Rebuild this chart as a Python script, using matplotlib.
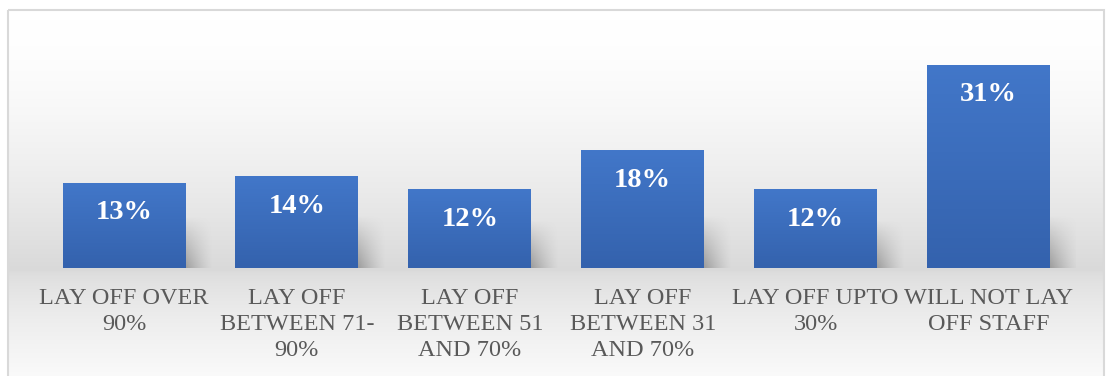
import numpy as np
import matplotlib
matplotlib.use("Agg")
import matplotlib.pyplot as plt
from matplotlib.patches import Rectangle

# data
categories = ["LAY OFF OVER\n90%", "LAY OFF\nBETWEEN 71-\n90%", "LAY OFF\nBETWEEN 51\nAND 70%",
              "LAY OFF\nBETWEEN 31\nAND 70%", "LAY OFF UPTO\n30%", "WILL NOT LAY\nOFF STAFF"]
values = [0.13, 0.14, 0.12, 0.18, 0.12, 0.31]
value_labels = ["13%", "14%", "12%", "18%", "12%", "31%"]

W, H = 1106, 376
fig = plt.figure(figsize=(W / 100, H / 100), dpi=100)
fig.patch.set_facecolor("white")

# background: wall + floor gradient inside the chart frame
bg = fig.add_axes([0, 0, 1, 1])
bg.set_xlim(0, W)
bg.set_ylim(H, 0)
bg.axis("off")
ys = np.arange(H)
base = 268
shade = np.where(ys < base,
                 1.0 - 0.15 * ((ys - 10) / (base - 10)).clip(0, 1) ** 1.6,
                 0.86 + 0.12 * ((ys - base) / (H - base)).clip(0, 1) ** 0.7)
grad = np.repeat(shade[:, None], 2, axis=1)
rgb = np.dstack([grad, grad, grad])
bg.imshow(rgb, extent=(8, 1104, H, 10), aspect="auto", interpolation="bilinear")
bg.add_patch(Rectangle((8, 10), 1096, H, fill=False, ec="#d9d9d9", lw=1.5))

ax = fig.add_axes([37.5 / W, (H - base) / H, (1075 - 37.5) / W, 35 * 6.55 / H])
ax.patch.set_alpha(0)
x = np.arange(len(values))
bw = 0.71
ax.set_xlim(-0.5, len(values) - 0.5)
ax.set_ylim(0, 0.35)

# soft shadows to the right of bars
for xi, v in zip(x, values):
    sh = min(0.6 * v, 0.08)
    nx, ny = 60, 60
    gx = np.linspace(0, 1, nx)[None, :]
    gy = np.linspace(0, 1, ny)[:, None]  # 0 at top, 1 at bottom
    alpha = (1 - gx) ** 1.3 * gy ** 1.0 * 0.55
    img = np.zeros((ny, nx, 4))
    img[..., :3] = 0.42
    img[..., 3] = alpha
    ax.imshow(img, extent=(xi + bw / 2, xi + bw / 2 + 0.16, 0, sh),
              aspect="auto", interpolation="bilinear", zorder=1)

bars = ax.bar(x, values, width=bw, color="#3b6dbf", zorder=2)
# vertical gradient on bars
top_c = np.array([0x42, 0x77, 0xc9]) / 255
bot_c = np.array([0x34, 0x62, 0xad]) / 255
t = np.linspace(0, 1, 100)[:, None]
bar_grad = (top_c * (1 - t) + bot_c * t)[:, None, :]
for b in bars:
    im = ax.imshow(bar_grad, extent=(b.get_x(), b.get_x() + b.get_width(), 0, b.get_height()),
                   aspect="auto", interpolation="bilinear", zorder=3)
    im.set_clip_path(b)

for xi, v, lab in zip(x, values, value_labels):
    ax.annotate(lab, (xi, v), xytext=(0, -30), textcoords="offset pixels",
                ha="center", va="center", color="white", fontsize=20.5,
                fontweight="bold", family="Liberation Serif", zorder=4)

ax.set_xticks(x)
ax.set_xticklabels(categories, fontsize=17.5, color="#595959", family="Liberation Serif",
                   linespacing=1.3)
ax.tick_params(axis="x", length=0, pad=14.5)
ax.set_yticks([])
for s in ax.spines.values():
    s.set_visible(False)

fig.savefig("out.png", dpi=100)
